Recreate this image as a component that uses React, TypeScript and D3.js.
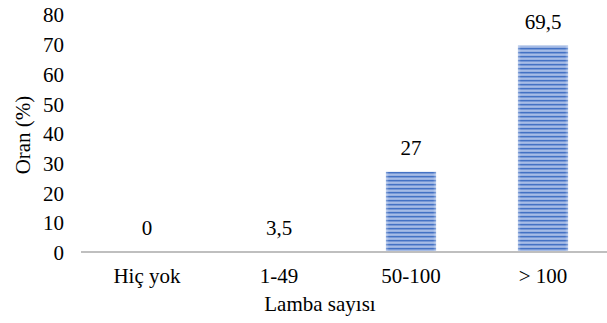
import React from "react";
import * as d3 from "d3";

const categories = ["Hiç yok", "1-49", "50-100", "> 100"];
const labelValues = ["0", "3,5", "27", "69,5"];
// bar heights as drawn in the reference (the 1-49 bar is not visible)
const barValues = [0, 0, 27, 69.5];
const yTicks = [0, 10, 20, 30, 40, 50, 60, 70, 80];

const W = 607;
const H = 323;
const FS = 21;
const TXT: React.CSSProperties = {
  fontFamily: '"Liberation Serif", "Times New Roman", Times, serif',
  fontSize: FS,
};

export default function App() {
  const x = d3
    .scaleBand<string>()
    .domain(categories)
    .range([81, 609])
    .paddingInner(0.62)
    .paddingOuter(0.31);
  const y = d3.scaleLinear().domain([0, 80]).range([252, 14.4]);

  return (
    <svg
      width={W}
      height={H}
      style={{ position: "absolute", left: 0, top: 0, background: "#fff" }}
    >
      <defs>
        <pattern id="stripes" width="8" height="4" patternUnits="userSpaceOnUse">
          <rect x="0" y="0" width="8" height="4" fill="#c3d2ef" />
          <rect x="0" y="0" width="8" height="1.6" fill="#4472c4" />
          <rect x="0" y="1.6" width="8" height="0.8" fill="#7b9bd9" />
          <rect x="0" y="3.4" width="8" height="0.6" fill="#7b9bd9" />
        </pattern>
        <linearGradient id="edge" x1="0" x2="1" y1="0" y2="0">
          <stop offset="0" stopColor="#ffffff" stopOpacity="0.35" />
          <stop offset="0.06" stopColor="#ffffff" stopOpacity="0" />
          <stop offset="0.94" stopColor="#ffffff" stopOpacity="0" />
          <stop offset="1" stopColor="#ffffff" stopOpacity="0.35" />
        </linearGradient>
      </defs>
      {categories.map((c, i) =>
        barValues[i] > 0 ? (
          <g key={c}>
            <rect
              x={x(c)}
              y={y(barValues[i])}
              width={x.bandwidth()}
              height={y(0) - y(barValues[i])}
              fill="url(#stripes)"
            />
            <rect
              x={x(c)}
              y={y(barValues[i])}
              width={x.bandwidth()}
              height={y(0) - y(barValues[i])}
              fill="url(#edge)"
            />
          </g>
        ) : null
      )}
      <line x1={81} x2={609} y1={y(0)} y2={y(0)} stroke="#bfbfbf" strokeWidth={2} />
      {yTicks.map((t) => (
        <text key={t} x={64} y={y(t) + 8} textAnchor="end" style={TXT} fill="#000">
          {t}
        </text>
      ))}
      {categories.map((c) => (
        <text
          key={c}
          x={(x(c) as number) + x.bandwidth() / 2}
          y={283}
          textAnchor="middle"
          style={TXT}
          fill="#000"
        >
          {c}
        </text>
      ))}
      {categories.map((c, i) => (
        <text
          key={"v" + c}
          x={(x(c) as number) + x.bandwidth() / 2}
          y={y(barValues[i]) - 17}
          textAnchor="middle"
          style={TXT}
          fill="#000"
        >
          {labelValues[i]}
        </text>
      ))}
      <text x={320} y={311} textAnchor="middle" style={TXT} fill="#000">
        Lamba sayısı
      </text>
      <text
        transform={`translate(30, 135) rotate(-90)`}
        textAnchor="middle"
        style={TXT}
        fill="#000"
      >
        Oran (%)
      </text>
    </svg>
  );
}
